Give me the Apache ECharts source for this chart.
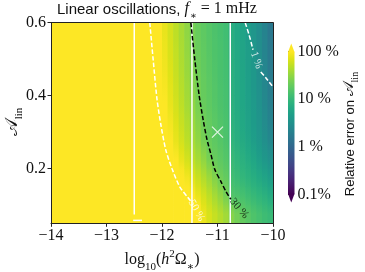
<!DOCTYPE html>
<html><head><meta charset="utf-8">
<script src="https://cdn.jsdelivr.net/npm/echarts@6/dist/echarts.min.js"></script>
<style>html,body{margin:0;padding:0;background:#fff}#c{width:365px;height:272px}</style>
</head><body><div id="c"></div>
<script>
// ---- data ----
const xEdges = [-14, -13, -12.5, -12.3, -12.2, -12.1, -12.0, -11.9, -11.8, -11.7, -11.6, -11.5, -11.4, -11.3, -11.2, -11.1, -11.0, -10.9, -10.8, -10.7, -10.6, -10.5, -10.4, -10.3, -10.2, -10.1, -10.0];
const aEdges = [0.05, 0.10, 0.15, 0.20, 0.25, 0.30, 0.35, 0.40, 0.45, 0.50, 0.55, 0.60];
// log10(relative error in %), rows from bottom (A 0.05-0.10) to top (A 0.55-0.60)
const errRow0 = [3.6, 3.5, 3.4, 3.3, 3.2, 3.1, 3.0, 2.9, 2.8, 2.7, 2.45, 2.25, 2.08, 1.92, 1.82, 1.74, 1.66, 1.58, 1.45, 1.36, 1.28, 1.22, 1.16, 1.11, 1.06, 1.02];
const errRow1 = [3.5, 3.4, 3.2, 3.1, 3.0, 2.85, 2.73, 2.6, 2.5, 2.3, 2.1, 2.0, 1.9, 1.8, 1.7, 1.6, 1.5, 1.38, 1.18, 1.15, 1.11, 1.06, 1.01, 0.96, 0.91, 0.85];
const errRow2 = [3.5, 3.3, 3.0, 2.92, 2.79, 2.67, 2.55, 2.4, 2.2, 2.05, 1.95, 1.85, 1.75, 1.65, 1.55, 1.44, 1.34, 1.28, 1.08, 1.03, 0.98, 0.93, 0.87, 0.81, 0.75, 0.68];
const errRow3 = [3.4, 3.2, 2.9, 2.73, 2.6, 2.5, 2.3, 2.1, 2.0, 1.9, 1.8, 1.7, 1.6, 1.5, 1.38, 1.3, 1.25, 1.2, 1.02, 0.96, 0.90, 0.84, 0.77, 0.69, 0.60, 0.52];
const errRow4 = [3.4, 3.1, 2.85, 2.6, 2.5, 2.3, 2.1, 2.0, 1.9, 1.8, 1.7, 1.6, 1.5, 1.38, 1.3, 1.25, 1.2, 1.15, 0.96, 0.89, 0.83, 0.76, 0.68, 0.59, 0.49, 0.40];
const errRow5 = [3.3, 3.05, 2.8, 2.55, 2.4, 2.2, 2.05, 1.95, 1.85, 1.75, 1.65, 1.55, 1.44, 1.34, 1.28, 1.23, 1.18, 1.14, 0.93, 0.86, 0.80, 0.72, 0.64, 0.55, 0.44, 0.34];
const errRow6 = [3.3, 3.0, 2.75, 2.5, 2.3, 2.1, 2.0, 1.9, 1.8, 1.7, 1.6, 1.5, 1.38, 1.3, 1.25, 1.2, 1.15, 1.12, 0.91, 0.84, 0.78, 0.70, 0.62, 0.52, 0.41, 0.30];
const errRow7 = [3.3, 3.0, 2.7, 2.44, 2.24, 2.07, 1.97, 1.87, 1.77, 1.67, 1.57, 1.46, 1.36, 1.29, 1.24, 1.19, 1.14, 1.11, 0.90, 0.83, 0.77, 0.69, 0.60, 0.50, 0.39, 0.27];
const errRow8 = [3.2, 2.95, 2.65, 2.38, 2.18, 2.04, 1.94, 1.84, 1.74, 1.64, 1.54, 1.43, 1.33, 1.27, 1.22, 1.17, 1.13, 1.10, 0.89, 0.82, 0.76, 0.68, 0.59, 0.48, 0.37, 0.24];
const errRow9 = [3.2, 2.9, 2.6, 2.34, 2.12, 2.02, 1.92, 1.82, 1.72, 1.62, 1.52, 1.40, 1.31, 1.26, 1.21, 1.16, 1.13, 1.09, 0.88, 0.81, 0.75, 0.67, 0.58, 0.47, 0.35, 0.22];
const errRow10 = [3.2, 2.9, 2.55, 2.3, 2.1, 2.0, 1.9, 1.8, 1.7, 1.6, 1.5, 1.38, 1.3, 1.25, 1.2, 1.15, 1.12, 1.08, 0.88, 0.80, 0.74, 0.66, 0.57, 0.46, 0.34, 0.20];
const errRows = [errRow0, errRow1, errRow2, errRow3, errRow4, errRow5, errRow6, errRow7, errRow8, errRow9, errRow10];

const xTicks = [-14, -13, -12, -11, -10];
const yTicks = [0.2, 0.4, 0.6];
const cbarTicks = [-1, 0, 1, 2];
const cbarLabels = ['0.1%', '1 %', '10 %', '100 %'];

const contour50 = [[-12.22, 0.6], [-12.16, 0.5], [-12.09, 0.39], [-12.02, 0.32], [-11.93, 0.25], [-11.82, 0.2], [-11.68, 0.15], [-11.53, 0.12], [-11.46, 0.107]];
const contour30 = [[-11.48, 0.6], [-11.41, 0.5], [-11.33, 0.4], [-11.26, 0.335], [-11.19, 0.28], [-11.12, 0.24], [-11.05, 0.198], [-10.94, 0.165], [-10.85, 0.138], [-10.76, 0.116]];
const contour1a = [[-10.5, 0.6], [-10.43, 0.566], [-10.36, 0.526]];
const contour1b = [[-10.22, 0.465], [-10.13, 0.449], [-10.0, 0.424]];
const vline1 = [[-12.5, 0.6], [-12.5, 0.074]];
const vline1foot = [[-12.52, 0.058], [-12.36, 0.058]];
const vline2 = [[-11.46, 0.6], [-11.46, 0.05]];
const vline3 = [[-10.77, 0.6], [-10.77, 0.05]];
const label50 = [-11.38, 0.085];
const label30 = [-10.61, 0.091];
const label1 = [-10.30, 0.497];
const markerPt = [[-11, 0.3]];

// ---- build ----
const viridis = ['#440154','#471365','#482475','#463480','#414487','#3b528b','#355f8d','#2f6c8e','#2a788e','#25848e','#21918c','#1e9c89','#22a884','#2fb47c','#44bf70','#5ec962','#7ad151','#9bd93c','#bddf26','#dfe318','#fde725'];
const vmin = cbarTicks[0], vmax = cbarTicks[cbarTicks.length - 1];
function hexRgb(h) { return [parseInt(h.slice(1, 3), 16), parseInt(h.slice(3, 5), 16), parseInt(h.slice(5, 7), 16)]; }
const viridisRgb = viridis.map(hexRgb);
function colorOf(v) {
  let t = (v - vmin) / (vmax - vmin);
  t = Math.max(0, Math.min(1, t)) * (viridisRgb.length - 1);
  const i = Math.min(Math.floor(t), viridisRgb.length - 2), f = t - i;
  const a = viridisRgb[i], b = viridisRgb[i + 1];
  return 'rgb(' + [0, 1, 2].map(k => Math.round(a[k] + (b[k] - a[k]) * f)).join(',') + ')';
}
const cells = [];
for (let r = 0; r < errRows.length; r++) {
  for (let c = 0; c < xEdges.length - 1; c++) {
    const v = errRows[r][c];
    const below = r > 0 ? (errRows[r - 1][c] + v) / 2 : v;
    const above = r < errRows.length - 1 ? (errRows[r + 1][c] + v) / 2 : v;
    cells.push([xEdges[c], xEdges[c + 1], aEdges[r], aEdges[r + 1], v, below, above]);
  }
}
const SERIF = "'Liberation Serif','DejaVu Serif',serif";
const SANS = "'Liberation Sans','DejaVu Sans',sans-serif";
const fmtNum = v => (v < 0 ? '\u2212' : '') + Math.abs(v);

const chart = echarts.init(document.getElementById('c'), null, {renderer: 'canvas'});
const lineS = (data, color, dashed, extra) => Object.assign({
  type: 'line', data: data, xAxisIndex: 0, yAxisIndex: 0, symbol: 'none', silent: true, z: 4,
  smooth: 0.25, lineStyle: {color: color, width: 1.5, type: dashed ? [4.5, 2.2] : 'solid'}
}, extra || {});
const labelS = (pt, text, color, rot) => ({
  type: 'scatter', xAxisIndex: 0, yAxisIndex: 0, silent: true, z: 6, symbolSize: 2,
  itemStyle: {color: 'rgba(0,0,0,0)'},
  data: [{value: pt}],
  label: {show: true, position: 'inside', formatter: text, rotate: rot, color: color, fontFamily: SERIF, fontSize: 11}
});

const option = {
  animation: false,
  backgroundColor: '#fff',
  title: {
    text: '{s|Linear oscillations, }{f|f}{sub|\u2217}{r| = 1 mHz}',
    left: 57, top: 0, padding: 0,
    textStyle: {
      fontWeight: 'normal',
      rich: {
        s: {fontFamily: SANS, fontSize: 15, fontWeight: 'normal', color: '#111', verticalAlign: 'top', padding: [2, 0, 4, 0]},
        f: {fontFamily: SERIF, fontStyle: 'italic', fontWeight: 'normal', fontSize: 16, color: '#111', verticalAlign: 'top', padding: [1, 1, 4, 0]},
        sub: {fontFamily: SERIF, fontSize: 10, fontWeight: 'normal', color: '#111', verticalAlign: 'bottom', lineHeight: 10},
        r: {fontFamily: SERIF, fontSize: 16, fontWeight: 'normal', color: '#111', verticalAlign: 'top', padding: [1, 0, 4, 0]}
      }
    }
  },
  grid: [
    {left: 51, top: 22.7, width: 222, height: 200.6, outerBoundsMode: 'none', containLabel: false},
    {left: 288, top: 51.7, width: 6.5, height: 142.6, outerBoundsMode: 'none', containLabel: false}
  ],
  xAxis: [
    {gridIndex: 0, type: 'value', min: -14, max: -10, interval: 1, z: 5,
     axisLine: {show: true, onZero: false, lineStyle: {color: '#222', width: 1}},
     axisTick: {show: true, length: 3.5, lineStyle: {color: '#222'}},
     axisLabel: {formatter: fmtNum, fontFamily: SERIF, fontSize: 16, color: '#111', margin: 4},
     splitLine: {show: false},
     name: '{t|log}{sb|10}{t|(}{it|h}{sp|2}{t|\u03a9}{sb|\u2217}{t|)}',
     nameLocation: 'middle', nameGap: 21,
     nameTextStyle: {rich: {
       t: {fontFamily: SERIF, fontSize: 16, color: '#111', verticalAlign: 'top', padding: [4, 0, 4, 0]},
       it: {fontFamily: SERIF, fontStyle: 'italic', fontSize: 16, color: '#111', verticalAlign: 'top', padding: [4, 0, 4, 0]},
       sb: {fontFamily: SERIF, fontSize: 11, color: '#111', verticalAlign: 'bottom', lineHeight: 11},
       sp: {fontFamily: SERIF, fontSize: 11, color: '#111', verticalAlign: 'top', lineHeight: 11}
     }}
    },
    {gridIndex: 0, type: 'value', min: -14, max: -10, position: 'top', z: 5,
     axisLine: {show: true, onZero: false, lineStyle: {color: '#222', width: 1}},
     axisTick: {show: false}, axisLabel: {show: false}, splitLine: {show: false}},
    {gridIndex: 1, type: 'value', min: 0, max: 1, show: false}
  ],
  yAxis: [
    {gridIndex: 0, type: 'value', min: 0.05, max: 0.6, z: 5,
     axisLine: {show: true, onZero: false, lineStyle: {color: '#222', width: 1}},
     axisTick: {show: true, length: 3.5, customValues: yTicks, lineStyle: {color: '#222'}},
     axisLabel: {customValues: yTicks, formatter: v => v.toFixed(1), fontFamily: SERIF, fontSize: 16, color: '#111', margin: 5},
     splitLine: {show: false}
    },
    {gridIndex: 0, type: 'value', min: 0.05, max: 0.6, position: 'right', z: 5,
     axisLine: {show: true, onZero: false, lineStyle: {color: '#222', width: 1}},
     axisTick: {show: false}, axisLabel: {show: false}, splitLine: {show: false}},
    {gridIndex: 1, type: 'value', min: -1, max: 2, interval: 1, position: 'right',
     axisLine: {show: false},
     axisTick: {show: true, length: 3, lineStyle: {color: '#222'}},
     axisLabel: {formatter: v => cbarLabels[cbarTicks.indexOf(v)], fontFamily: SERIF, fontSize: 16, color: '#111', margin: 3},
     splitLine: {show: false}}
  ],
  graphic: [{
    type: 'text', x: 351, y: 134, rotation: Math.PI / 2, silent: true,
    style: {
      text: '{s|Relative error on }{a|\ud835\udc9c}{b|lin}',
      align: 'center', verticalAlign: 'middle',
      rich: {
        s: {fontFamily: SANS, fontSize: 13, fill: '#111', verticalAlign: 'top', padding: [2, 0, 4, 0]},
        a: {fontFamily: SERIF, fontSize: 15, fill: '#111', verticalAlign: 'top', padding: [0, 0, 4, 0]},
        b: {fontFamily: SERIF, fontSize: 10, fill: '#111', verticalAlign: 'bottom', lineHeight: 10}
      }
    }
  }, {
    type: 'text', x: 14, y: 122, rotation: Math.PI / 2, silent: true,
    style: {
      text: '{a|\ud835\udc9c}{b|lin}',
      align: 'center', verticalAlign: 'middle',
      rich: {
        a: {fontFamily: SERIF, fontSize: 18, fill: '#111', verticalAlign: 'top', padding: [0, 0, 4, 0]},
        b: {fontFamily: SERIF, fontSize: 11, fill: '#111', verticalAlign: 'bottom', lineHeight: 11}
      }
    }
  }],
  series: [
    {
      type: 'custom', xAxisIndex: 0, yAxisIndex: 0, data: cells, clip: true, silent: true, z: 1,
      encode: {x: [0, 1], y: [2, 3]},
      renderItem: function (params, api) {
        const p0 = api.coord([api.value(0), api.value(3)]);
        const p1 = api.coord([api.value(1), api.value(2)]);
        const grad = new echarts.graphic.LinearGradient(0, 0, 0, 1, [
          {offset: 0, color: colorOf(api.value(6))},
          {offset: 0.5, color: colorOf(api.value(4))},
          {offset: 1, color: colorOf(api.value(5))}
        ]);
        return {type: 'rect', shape: {x: p0[0], y: p0[1] - 0.3, width: p1[0] - p0[0] + 0.7, height: p1[1] - p0[1] + 0.6},
                style: {fill: grad}};
      }
    },
    {
      type: 'custom', xAxisIndex: 2, yAxisIndex: 2, data: [[0, 0]], clip: false, silent: true,
      renderItem: function (params, api) {
        const t = api.coord([0, vmax]);
        const b = api.coord([0, vmin]);
        const r = api.coord([1, 0]);
        const x0 = t[0], x1 = r[0], w = x1 - x0, ah = w * 1.28;
        const stops = viridis.slice().reverse().map((c, i, arr) => ({offset: i / (arr.length - 1), color: c}));
        return {type: 'group', children: [
          {type: 'rect', shape: {x: x0, y: t[1], width: w, height: b[1] - t[1]},
           style: {fill: new echarts.graphic.LinearGradient(0, 0, 0, 1, stops)}},
          {type: 'polygon', shape: {points: [[x0, t[1] + 0.5], [x1, t[1] + 0.5], [(x0 + x1) / 2, t[1] - ah]]}, style: {fill: '#fde725'}},
          {type: 'polygon', shape: {points: [[x0, b[1] - 0.5], [x1, b[1] - 0.5], [(x0 + x1) / 2, b[1] + ah]]}, style: {fill: '#440154'}}
        ]};
      }
    },
    lineS(vline1, '#fff', false, {smooth: false}),
    lineS(vline1foot, '#fff', false, {smooth: false}),
    lineS(vline2, '#fff', false, {smooth: false}),
    lineS(vline3, '#fff', false, {smooth: false}),
    lineS(contour50, '#fff', true),
    lineS(contour30, '#000', true),
    lineS(contour1a, '#fff', true),
    lineS(contour1b, '#fff', true),
    labelS(label50, '50 %', '#fff', -60),
    labelS(label30, '30 %', '#000', -50),
    labelS(label1, '1 %', '#fff', -70),
    {
      type: 'scatter', xAxisIndex: 0, yAxisIndex: 0, data: markerPt, silent: true, z: 6,
      symbol: 'path://M0,0L10,10M10,0L0,10', symbolSize: 11,
      itemStyle: {color: 'rgba(0,0,0,0)', borderColor: '#fff', borderWidth: 1.3}
    }
  ]
};
chart.setOption(option);
</script>
</body></html>
